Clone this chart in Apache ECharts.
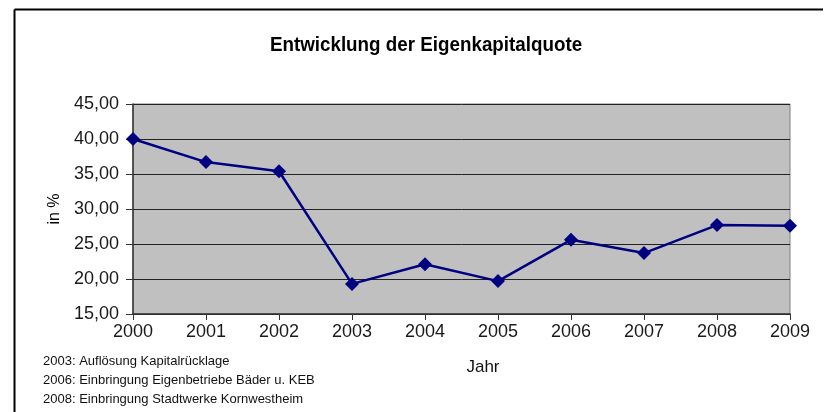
<!DOCTYPE html>
<html><head><meta charset="utf-8">
<script src="https://cdn.jsdelivr.net/npm/echarts@6/dist/echarts.min.js"></script>
<style>html,body{margin:0;padding:0;background:#fff}#c{width:827px;height:412px}</style>
</head><body><div id="c"></div>
<script>
const years = ['2000','2001','2002','2003','2004','2005','2006','2007','2008','2009'];
const quote = [40.0, 36.7, 35.4, 19.3, 22.1, 19.7, 25.6, 23.7, 27.7, 27.6];
const notes = ['2003: Auflösung Kapitalrücklage','2006: Einbringung Eigenbetriebe Bäder u. KEB','2008: Einbringung Stadtwerke Kornwestheim'];
const titleText = 'Entwicklung der Eigenkapitalquote';
const xName = 'Jahr', yName = 'in %';

const chart = echarts.init(document.getElementById('c'));
const F = '"Liberation Sans", Arial, sans-serif';
chart.setOption({
  animation: false,
  backgroundColor: '#fff',
  grid: {left: 133, right: 37, top: 104, bottom: 98, show: true, backgroundColor: '#c0c0c0', borderColor: '#808080', borderWidth: 1},
  xAxis: {type: 'category', data: years, boundaryGap: false,
    axisLine: {lineStyle: {color: '#333', width: 1.5}},
    axisTick: {show: true, length: 6, alignWithLabel: true, lineStyle: {color: '#333'}},
    axisLabel: {fontFamily: F, fontSize: 18, color: '#1a1a1a', margin: 9},
    splitLine: {show: false}},
  yAxis: {type: 'value', min: 15, max: 45, interval: 5,
    name: yName, nameLocation: 'middle', nameGap: 68, nameRotate: 90,
    nameTextStyle: {fontFamily: F, fontSize: 16, color: '#000'},
    axisLine: {show: true, lineStyle: {color: '#333', width: 1.5}},
    axisTick: {show: true, length: 7, lineStyle: {color: '#333'}},
    axisLabel: {fontFamily: F, fontSize: 18, color: '#1a1a1a', margin: 14, formatter: v => v.toFixed(2).replace('.', ',')},
    splitLine: {lineStyle: {color: '#222', width: 1}}},
  series: [{type: 'line', data: quote, symbol: 'diamond', symbolSize: 14,
    lineStyle: {color: '#000080', width: 2.5}, itemStyle: {color: '#000080'}}],
  graphic: [
    {type: 'line', shape: {x1: 14.5, y1: 9.5, x2: 823, y2: 9.5}, style: {stroke: '#000', lineWidth: 2}},
    {type: 'line', shape: {x1: 14.5, y1: 9.5, x2: 14.5, y2: 412}, style: {stroke: '#000', lineWidth: 2}},
    {type: 'text', x: 426, y: 45, scaleX: 0.895, style: {text: titleText, font: 'bold 21px ' + F, fill: '#000', align: 'center', verticalAlign: 'middle'}},
    {type: 'text', x: 483, y: 367, style: {text: xName, font: '17px ' + F, fill: '#111', align: 'center', verticalAlign: 'middle'}},
    ...notes.map((t, i) => ({type: 'text', x: 43, y: [361, 380, 399][i], style: {text: t, font: '13px ' + F, fill: '#111', align: 'left', verticalAlign: 'middle'}}))
  ]
});
</script></body></html>
